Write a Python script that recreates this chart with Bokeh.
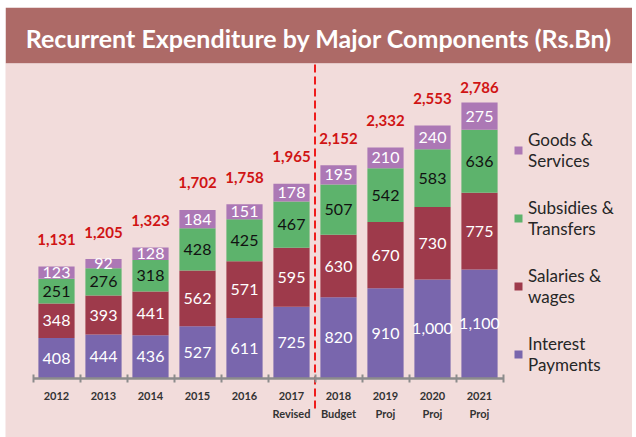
from bokeh.plotting import figure
from bokeh.models import (Range1d, LinearAxis, FixedTicker, ColumnDataSource, Legend, LegendItem)
from bokeh.embed import file_html
from bokeh.resources import INLINE
from bokeh.core.properties import value

# ---------------- data ----------------
title_text = "Recurrent Expenditure by Major Components (Rs.Bn)"
years = ["2012", "2013", "2014", "2015", "2016", "2017\nRevised",
         "2018\nBudget", "2019\nProj", "2020\nProj", "2021\nProj"]
interest = [408, 444, 436, 527, 611, 725, 820, 910, 1000, 1100]
salaries = [348, 393, 441, 562, 571, 595, 630, 670, 730, 775]
subsidies = [251, 276, 318, 428, 425, 467, 507, 542, 583, 636]
goods = [123, 92, 128, 184, 151, 178, 195, 210, 240, 275]
totals = [1131, 1205, 1323, 1702, 1758, 1965, 2152, 2332, 2553, 2786]
series_keys = ["interest", "salaries", "subsidies", "goods"]
legend_labels = ["Interest\nPayments", "Salaries &\nwages",
                 "Subsidies &\nTransfers", "Goods &\nServices"]
split_before = "2018\nBudget"   # dashed separator: actuals vs budget/projections

# ---------------- style / layout ----------------
FONT = "Lato"
BANNER = "#AD6A67"
PINK = "#F2DCDB"
colors = ["#7966AD", "#9E3A4B", "#5DB36C", "#AC78B5"]
text_colors = ["white", "white", "#111111", "white"]
FW, FH = 627, 430
BANNER_H = 56
FRAME_H = FH - BANNER_H
CAT_PX = 47            # px per category slot
LEFT_PAD_PX = 27.5     # px from frame left to first category slot
AXIS_PX = 315          # px from frame top to the zero line
SCALE = 0.0991         # px per Rs.Bn

# ---------------- derived columns ----------------
n = len(years)
centers = [i + 0.5 for i in range(n)]          # category slot centres
vals = dict(interest=interest, salaries=salaries, subsidies=subsidies, goods=goods)
data = dict(years=years, xpos=centers, **vals)
bottom = [0] * n
for k in series_keys:
    data[k + "_mid"] = [b + v / 2 for b, v in zip(bottom, vals[k])]
    data[k + "_lbl"] = [f"{v:,}" for v in vals[k]]
    bottom = [b + v for b, v in zip(bottom, vals[k])]
top_px = [AXIS_PX - s * SCALE for s in bottom]
data["tot_lbl"] = [f"{t:,}" for t in totals]
data["tot_y"] = bottom
data["tot_off"] = [-min(27, tp - 24) for tp in top_px]
src = ColumnDataSource(data)

x_start = -LEFT_PAD_PX / CAT_PX
x_end = x_start + FW / CAT_PX
y_end = AXIS_PX / SCALE
y_start = -(FRAME_H - AXIS_PX) / SCALE

p = figure(width=FW, height=FH, x_range=Range1d(x_start, x_end), y_range=Range1d(y_start, y_end),
           toolbar_location=None, output_backend="svg",
           x_axis_location=None, y_axis_location=None,
           min_border_left=0, min_border_right=0, min_border_top=BANNER_H, min_border_bottom=0,
           background_fill_color=PINK, border_fill_color=BANNER, margin=(7, 0, 0, 5))
p.outline_line_color = None
p.grid.visible = False

p.title.text = title_text
p.title.align = "center"
p.title.text_font = FONT
p.title.text_font_style = "bold"
p.title.text_font_size = "25px"
p.title.text_color = "white"
p.title.standoff = 22

rs = p.vbar_stack(series_keys, x="xpos", width=0.77, source=src, color=colors, line_color=None)

for k, tc in zip(series_keys, text_colors):
    p.text(x="xpos", y=k + "_mid", text=k + "_lbl", source=src, text_align="center",
           text_baseline="middle", text_font=value(FONT), text_font_size="16px", text_color=tc)

p.text(x="xpos", y="tot_y", text="tot_lbl", y_offset="tot_off", source=src, text_align="center",
       text_baseline="middle", text_font=value(FONT), text_font_style="bold",
       text_font_size="15px", text_color="#D01414")

# axis line with boundary ticks between categories
na = LinearAxis(ticker=FixedTicker(ticks=list(range(n + 1))), bounds=(0, n),
                fixed_location=0, major_tick_in=4, major_tick_out=4,
                major_tick_line_color="#8C8C8C", major_tick_line_width=2,
                axis_line_color="#8C8C8C", axis_line_width=2.5,
                minor_tick_line_color=None,
                major_label_overrides={i: "" for i in range(n + 1)})
p.add_layout(na, "below")

# category labels at slot centres
ca = LinearAxis(ticker=FixedTicker(ticks=centers), fixed_location=0,
                major_label_overrides={c: y for c, y in zip(centers, years)},
                axis_line_color=None, major_tick_line_color=None, minor_tick_line_color=None,
                major_tick_in=0, major_tick_out=0, major_label_standoff=10,
                major_label_text_font=FONT, major_label_text_font_style="bold",
                major_label_text_font_size="11px", major_label_text_color="#333333",
                major_label_text_line_height=1.45)
p.add_layout(ca, "below")

# dashed separator between actuals and budget/projections
k_split = years.index(split_before)
p.segment(x0=[k_split], x1=[k_split], y0=[-(345 - AXIS_PX) / SCALE], y1=[y_end],
          line_color="#EE1C1C", line_width=2, line_dash="8 4")

items = [LegendItem(label=lab, renderers=[r]) for lab, r in zip(legend_labels, rs)][::-1]
legend = Legend(items=items, location=(508, 62), background_fill_alpha=0, border_line_alpha=0,
                label_text_font=FONT, label_text_font_size="17px", label_text_color="#262626",
                glyph_width=10, glyph_height=10,
                label_standoff=5, spacing=26, padding=0, margin=0)
p.add_layout(legend)

open("out.html", "w").write(file_html(p, INLINE))
